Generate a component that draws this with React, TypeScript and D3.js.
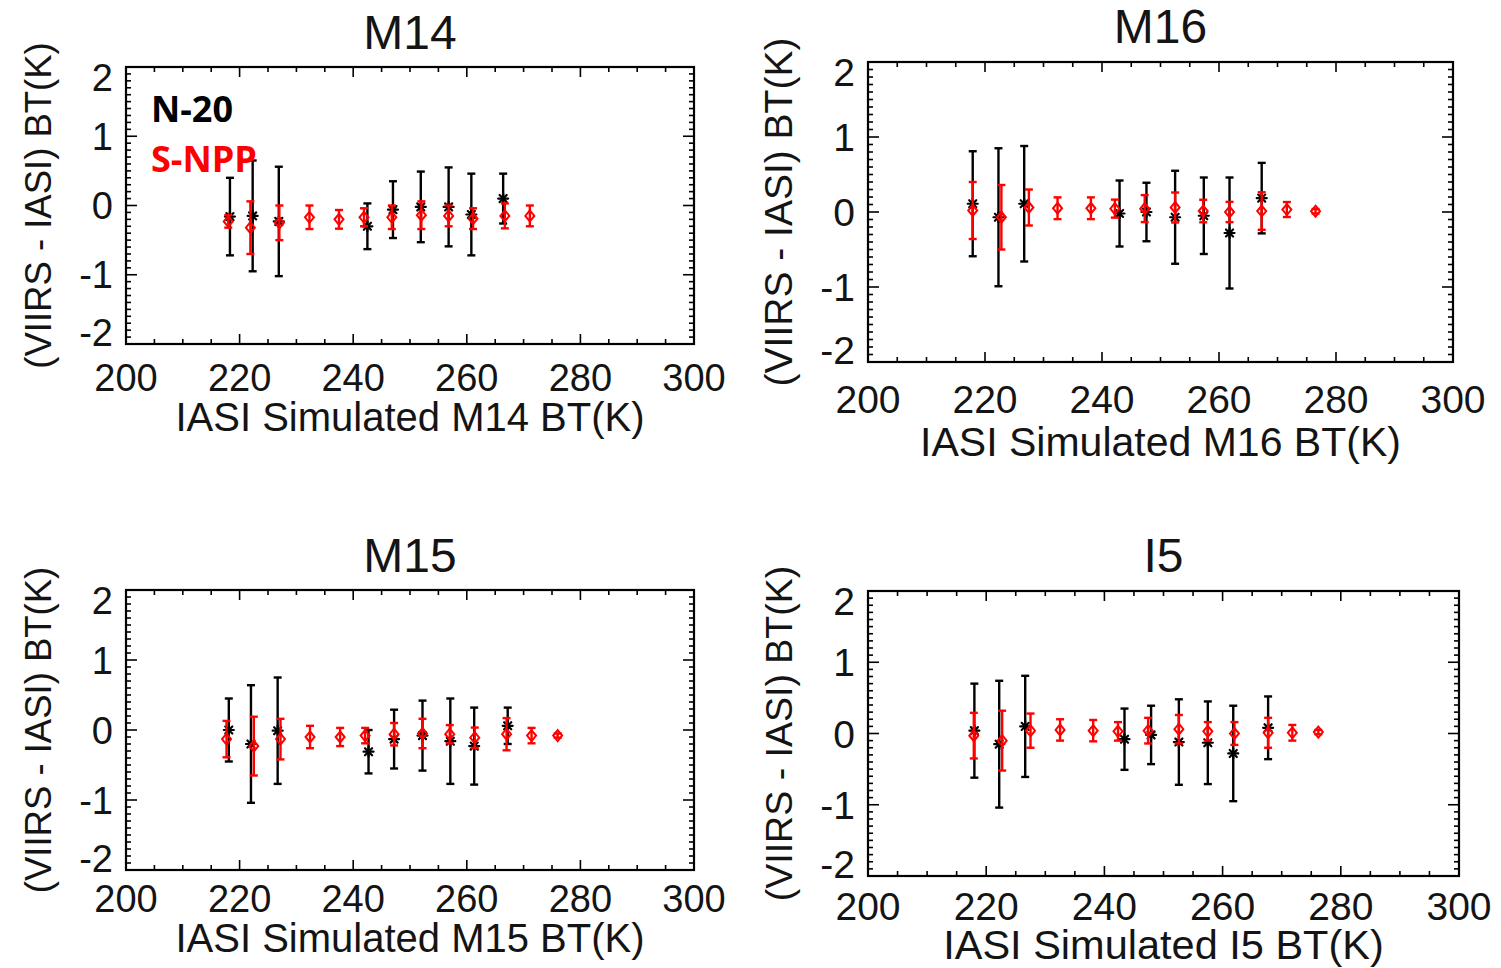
import React from "react";
import * as d3 from "d3";

// ---- Channel names (panel titles) ----
const channels = ["M14", "M16", "M15", "I5"];

// ---- N-20 (black): IASI-simulated BT bin centres, mean bias and std dev ----
const n20M14Tb = [218.3, 222.3, 226.9, 242.5, 247.0, 251.9, 256.8, 260.8, 266.4];
const n20M14Bias = [-0.16, -0.15, -0.23, -0.3, -0.06, -0.02, -0.02, -0.13, 0.1];
const n20M14Std = [0.56, 0.8, 0.79, 0.33, 0.41, 0.51, 0.57, 0.59, 0.36];

const n20M16Tb = [217.9, 222.3, 226.7, 243.0, 247.6, 252.5, 257.4, 261.8, 267.3];
const n20M16Bias = [0.11, -0.07, 0.11, -0.02, 0.0, -0.07, -0.05, -0.28, 0.185];
const n20M16Std = [0.7, 0.92, 0.77, 0.44, 0.39, 0.62, 0.51, 0.74, 0.47];

const n20M15Tb = [218.1, 222.0, 226.7, 242.7, 247.2, 252.2, 257.1, 261.3, 267.2];
const n20M15Bias = [0.0, -0.2, -0.01, -0.31, -0.13, -0.08, -0.16, -0.23, 0.06];
const n20M15Std = [0.45, 0.84, 0.76, 0.31, 0.42, 0.5, 0.61, 0.55, 0.26];

const n20I5Tb = [218.0, 222.2, 226.6, 243.4, 247.9, 252.6, 257.5, 261.8, 267.7];
const n20I5Bias = [0.04, -0.15, 0.1, -0.08, -0.02, -0.12, -0.13, -0.28, 0.08];
const n20I5Std = [0.66, 0.89, 0.71, 0.43, 0.41, 0.6, 0.58, 0.67, 0.44];

// ---- S-NPP (red) ----
const nppM14Tb = [218.0, 221.9, 227.0, 232.3, 237.5, 241.9, 246.8, 252.0, 256.8, 261.1, 266.7, 271.1];
const nppM14Bias = [-0.23, -0.32, -0.25, -0.17, -0.2, -0.17, -0.17, -0.14, -0.15, -0.19, -0.15, -0.15];
const nppM14Std = [0.09, 0.38, 0.25, 0.17, 0.135, 0.13, 0.17, 0.2, 0.15, 0.15, 0.18, 0.15];

const nppM16Tb = [217.9, 222.8, 227.5, 232.4, 238.1, 242.2, 247.3, 252.5, 257.3, 261.8, 267.3, 271.6, 276.5];
const nppM16Bias = [0.02, -0.07, 0.06, 0.05, 0.05, 0.045, 0.045, 0.06, 0.013, 0.0, 0.013, 0.033, 0.01];
const nppM16Std = [0.38, 0.43, 0.24, 0.145, 0.145, 0.12, 0.18, 0.2, 0.15, 0.135, 0.25, 0.1, 0.03];

const nppM15Tb = [217.7, 222.5, 227.2, 232.4, 237.7, 242.1, 247.2, 252.2, 257.0, 261.4, 267.0, 271.4, 276.0];
const nppM15Bias = [-0.13, -0.23, -0.13, -0.1, -0.1, -0.08, -0.06, -0.05, -0.06, -0.11, -0.06, -0.08, -0.08];
const nppM15Std = [0.26, 0.42, 0.29, 0.16, 0.13, 0.11, 0.16, 0.21, 0.13, 0.145, 0.23, 0.11, 0.03];

const nppI5Tb = [217.9, 222.7, 227.5, 232.5, 238.1, 242.3, 247.4, 252.6, 257.5, 262.0, 267.7, 271.8, 276.2];
const nppI5Bias = [-0.03, -0.1, 0.04, 0.05, 0.04, 0.03, 0.04, 0.06, 0.03, 0.0, 0.01, 0.01, 0.02];
const nppI5Std = [0.32, 0.42, 0.24, 0.15, 0.15, 0.13, 0.18, 0.2, 0.13, 0.16, 0.21, 0.11, 0.03];

// ---- Axis ticks ----
const xMajorTicks = [200, 220, 240, 260, 280, 300];
const yMajorTicks = [2, 1, 0, -1, -2];
const xDomain = [200, 300];
const yDomain = [-2, 2];

// ---- Legend ----
const seriesNames = ["N-20", "S-NPP"];
const seriesColors = ["#000000", "#ff0000"];

const yAxisTitle = "(VIIRS - IASI) BT(K)";
const xAxisTitle = (ch: string) => `IASI Simulated ${ch} BT(K)`;

type Series = { tb: number[]; bias: number[]; std: number[] };

const n20Series: Series[] = [
  { tb: n20M14Tb, bias: n20M14Bias, std: n20M14Std },
  { tb: n20M16Tb, bias: n20M16Bias, std: n20M16Std },
  { tb: n20M15Tb, bias: n20M15Bias, std: n20M15Std },
  { tb: n20I5Tb, bias: n20I5Bias, std: n20I5Std },
];
const nppSeries: Series[] = [
  { tb: nppM14Tb, bias: nppM14Bias, std: nppM14Std },
  { tb: nppM16Tb, bias: nppM16Bias, std: nppM16Std },
  { tb: nppM15Tb, bias: nppM15Bias, std: nppM15Std },
  { tb: nppI5Tb, bias: nppI5Bias, std: nppI5Std },
];

// Page layout of each panel (plot frame and text placement, in px)
const layouts = [
  { x0: 126, x1: 694, y0: 67, y1: 344, titleY: 49, tickY: 391, xtY: 431, ytX: 51, tickFs: 38, titleFs: 48, axFs: 40, ytFs: 36.5 },
  { x0: 868, x1: 1453, y0: 62, y1: 362, titleY: 43, tickY: 413, xtY: 456, ytX: 792, tickFs: 39, titleFs: 48, axFs: 41, ytFs: 39 },
  { x0: 126, x1: 694, y0: 590, y1: 870, titleY: 572, tickY: 912, xtY: 952, ytX: 51, tickFs: 38, titleFs: 48, axFs: 40, ytFs: 36.5 },
  { x0: 868, x1: 1459, y0: 591, y1: 876, titleY: 572, tickY: 920, xtY: 959, ytX: 792, tickFs: 39, titleFs: 48, axFs: 41.5, ytFs: 37.5 },
];

const FONT = "'Liberation Sans', Arial, Helvetica, sans-serif";
const TEXT = "#141414";

function Asterisk({ cx, cy, r, color }: { cx: number; cy: number; r: number; color: string }) {
  const d = r * Math.SQRT1_2;
  return (
    <g stroke={color} strokeWidth={2.2} strokeLinecap="round">
      <line x1={cx - r} y1={cy} x2={cx + r} y2={cy} />
      <line x1={cx} y1={cy - r} x2={cx} y2={cy + r} />
      <line x1={cx - d} y1={cy - d} x2={cx + d} y2={cy + d} />
      <line x1={cx - d} y1={cy + d} x2={cx + d} y2={cy - d} />
    </g>
  );
}

function Diamond({ cx, cy, color }: { cx: number; cy: number; color: string }) {
  const w = 4.5;
  const h = 5.5;
  const p = `M${cx},${cy - h}L${cx + w},${cy}L${cx},${cy + h}L${cx - w},${cy}Z`;
  return <path d={p} fill="none" stroke={color} strokeWidth={2} />;
}

function ErrorBars({ s, x, y, color, marker }: { s: Series; x: d3.ScaleLinear<number, number>; y: d3.ScaleLinear<number, number>; color: string; marker: "star" | "diamond" }) {
  const cap = 4;
  return (
    <g>
      {s.tb.map((t, i) => {
        const cx = x(t);
        const cy = y(s.bias[i]);
        const top = y(s.bias[i] + s.std[i]);
        const bot = y(s.bias[i] - s.std[i]);
        return (
          <g key={i}>
            <g stroke={color} strokeWidth={2.4}>
              <line x1={cx} y1={top} x2={cx} y2={bot} />
              <line x1={cx - cap} y1={top} x2={cx + cap} y2={top} />
              <line x1={cx - cap} y1={bot} x2={cx + cap} y2={bot} />
            </g>
            {marker === "star" ? <Asterisk cx={cx} cy={cy} r={5} color={color} /> : <Diamond cx={cx} cy={cy} color={color} />}
          </g>
        );
      })}
    </g>
  );
}

function Panel({ idx }: { idx: number }) {
  const L = layouts[idx];
  const ch = channels[idx];
  const x = d3.scaleLinear().domain(xDomain).range([L.x0, L.x1]);
  const y = d3.scaleLinear().domain(yDomain).range([L.y1, L.y0]);
  const xMinor = d3.range(xDomain[0], xDomain[1] + 0.001, 5);
  const yMinor = d3.range(0, 41).map((k) => yDomain[0] + k * 0.1);
  const cx = (L.x0 + L.x1) / 2;
  const cy = (L.y0 + L.y1) / 2;

  return (
    <g>
      {/* ticks on all four sides, pointing inward */}
      <g stroke="#000" strokeWidth={1.6}>
        {xMinor.map((v) => {
          const major = xMajorTicks.includes(Math.round(v));
          const len = major ? 10 : 5;
          return (
            <g key={"x" + v}>
              <line x1={x(v)} x2={x(v)} y1={L.y1} y2={L.y1 - len} />
              <line x1={x(v)} x2={x(v)} y1={L.y0} y2={L.y0 + len} />
            </g>
          );
        })}
        {yMinor.map((v, k) => {
          const major = k % 10 === 0;
          const len = major ? 11 : 5;
          return (
            <g key={"y" + k}>
              <line x1={L.x0} x2={L.x0 + len} y1={y(v)} y2={y(v)} />
              <line x1={L.x1} x2={L.x1 - len} y1={y(v)} y2={y(v)} />
            </g>
          );
        })}
      </g>
      <rect x={L.x0} y={L.y0} width={L.x1 - L.x0} height={L.y1 - L.y0} fill="none" stroke="#000" strokeWidth={2.2} />

      {/* tick labels */}
      <g fontFamily={FONT} fill={TEXT} fontSize={L.tickFs}>
        {xMajorTicks.map((v) => (
          <text key={v} x={x(v)} y={L.tickY} textAnchor="middle">
            {v}
          </text>
        ))}
        {yMajorTicks.map((v, k) => {
          const nudge = k === 0 ? 10 : k === yMajorTicks.length - 1 ? -12 : 0;
          return (
            <text key={v} x={L.x0 - 13} y={y(v) + nudge} dy="0.36em" textAnchor="end">
              {v}
            </text>
          );
        })}
      </g>

      {/* titles */}
      <text x={cx} y={L.titleY} textAnchor="middle" fontFamily={FONT} fontSize={L.titleFs} fill={TEXT}>
        {ch}
      </text>
      <text x={cx} y={L.xtY} textAnchor="middle" fontFamily={FONT} fontSize={L.axFs} fill={TEXT}>
        {xAxisTitle(ch)}
      </text>
      <text
        transform={`translate(${L.ytX},${cy}) rotate(-90)`}
        textAnchor="middle"
        fontFamily={FONT}
        fontSize={L.ytFs}
        fill={TEXT}
      >
        {yAxisTitle}
      </text>

      {/* data: N-20 first, S-NPP on top */}
      <ErrorBars s={n20Series[idx]} x={x} y={y} color={seriesColors[0]} marker="star" />
      <ErrorBars s={nppSeries[idx]} x={x} y={y} color={seriesColors[1]} marker="diamond" />

      {idx === 0 && (
        <g fontFamily="'Open Sans', 'Noto Sans', sans-serif" fontWeight={700} fontSize={36}>
          <text x={151} y={122} fill={seriesColors[0]}>
            {seriesNames[0]}
          </text>
          <text x={151} y={172} fill={seriesColors[1]}>
            {seriesNames[1]}
          </text>
        </g>
      )}
    </g>
  );
}

export default function App() {
  return (
    <svg
      width={1501}
      height={968}
      viewBox="0 0 1501 968"
      style={{ position: "absolute", left: 0, top: 0, background: "#fff" }}
    >
      <rect width={1501} height={968} fill="#fff" />
      {channels.map((_, i) => (
        <Panel key={i} idx={i} />
      ))}
    </svg>
  );
}
